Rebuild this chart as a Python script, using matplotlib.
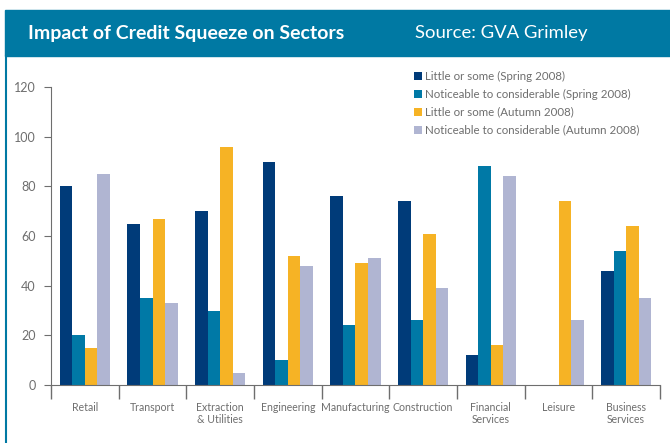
import matplotlib.pyplot as plt
from matplotlib.patches import Rectangle
from matplotlib.lines import Line2D
import numpy as np

plt.rcParams['font.family'] = ['Lato', 'DejaVu Sans']

sectors = ['Retail', 'Transport', 'Extraction\n& Utilities', 'Engineering',
           'Manufacturing', 'Construction', 'Financial\nServices', 'Leisure',
           'Business\nServices']
series_names = ['Little or some (Spring 2008)',
                'Noticeable to considerable (Spring 2008)',
                'Little or some (Autumn 2008)',
                'Noticeable to considerable (Autumn 2008)']
little_spring = [80, 65, 70, 90, 76, 74, 12, 0, 46]
notice_spring = [20, 35, 30, 10, 24, 26, 88, 0, 54]
little_autumn = [15, 67, 96, 52, 49, 61, 16, 74, 64]
notice_autumn = [85, 33, 5, 48, 51, 39, 84, 26, 35]
yticks = [0, 20, 40, 60, 80, 100, 120]

colors = ['#003B79', '#0079A6', '#F6B325', '#B0B5D2']
header = '#0079A3'
grey = '#6E6E6E'

fig = plt.figure(figsize=(6.7, 4.43), dpi=100)
W, H = 670, 443

# header band and left rule
fig.patches.append(Rectangle((5 / W, 1 - 56 / H), 1, 46 / H, transform=fig.transFigure,
                             color=header, zorder=0))
fig.add_artist(Line2D([5.5 / W, 5.5 / W], [0, 1 - 56 / H], color=header, lw=1.5))
fig.text(28 / W, 1 - 33 / H, 'Impact of Credit Squeeze on Sectors', color='white',
         fontsize=14, fontweight='bold', va='center', ha='left')
fig.text(415 / W, 1 - 33 / H, 'Source: GVA Grimley', color='white',
         fontsize=13.3, va='center', ha='left')

ax = fig.add_axes([51 / W, 1 - 385 / H, 609 / W, 298 / H])
data = [little_spring, notice_spring, little_autumn, notice_autumn]
x = np.arange(len(sectors)) + 0.5
w = 0.185
for k, vals in enumerate(data):
    ax.bar(x + (k - 1.5) * w, vals, w, color=colors[k], label=series_names[k], linewidth=0)

ax.set_xlim(0, len(sectors))
ax.set_ylim(0, 120)
ax.set_yticks(yticks)
ax.set_xticks(np.arange(len(sectors) + 1))
ax.set_xticklabels([])
ax.set_xticks(x, minor=True)
ax.set_xticklabels(sectors, minor=True)
ax.tick_params(axis='x', which='major', length=10, color=grey, width=1)
ax.tick_params(axis='x', which='minor', length=0, pad=12, labelsize=7.6, labelcolor=grey)
ax.tick_params(axis='y', length=5, color=grey, labelsize=9, labelcolor=grey, pad=6)
for s in ['top', 'right']:
    ax.spines[s].set_visible(False)
for s in ['left', 'bottom']:
    ax.spines[s].set_color(grey)

leg = ax.legend(loc='upper left', bbox_to_anchor=(358 / 609, 1.07), frameon=False,
                fontsize=8.3, handlelength=0.7, handleheight=0.7, handletextpad=0.3,
                labelspacing=0.6, borderaxespad=0)
for t in leg.get_texts():
    t.set_color(grey)

fig.savefig('out.png', dpi=100)
